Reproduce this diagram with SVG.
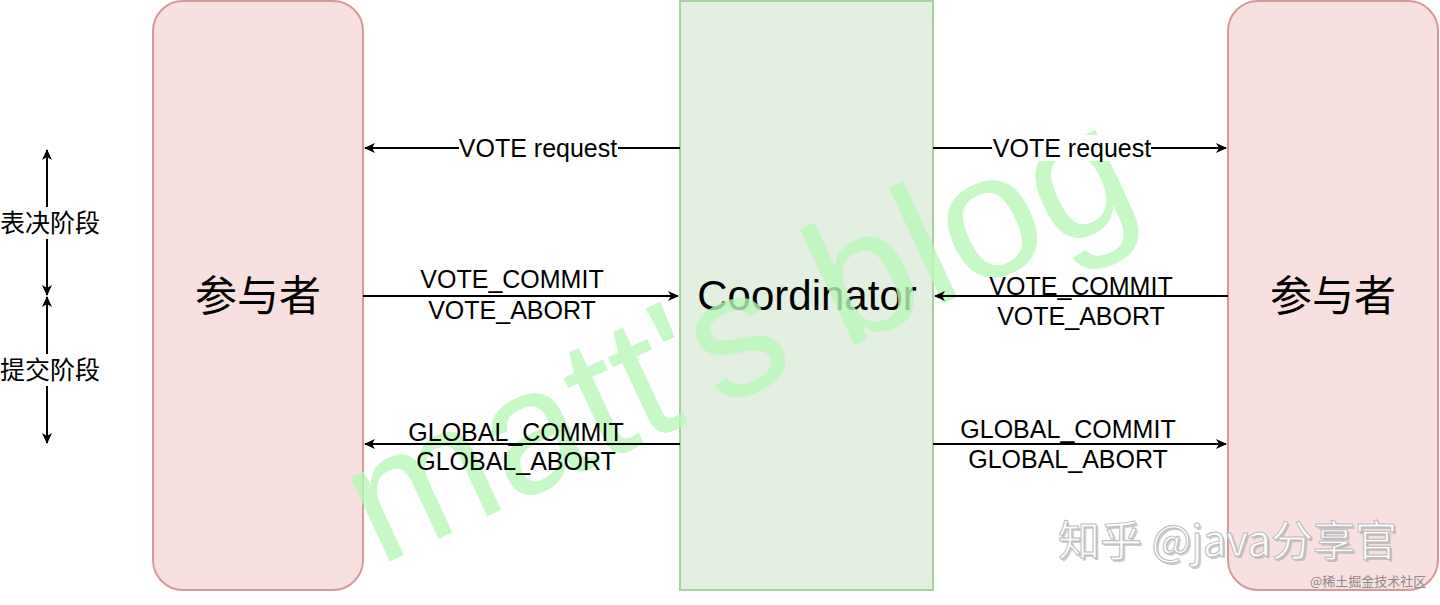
<svg xmlns="http://www.w3.org/2000/svg" width="1440" height="605" viewBox="0 0 1440 605">
<style>
.lbl{font-family:"Liberation Sans",Arial,sans-serif;font-size:25px;fill:#000;text-anchor:middle}
.big{font-family:"Noto Sans CJK SC","Liberation Sans",sans-serif;font-size:42px;fill:#000;text-anchor:middle}
.cjk{font-family:"Noto Sans CJK SC",sans-serif;font-size:25px;fill:#000;text-anchor:middle}
.edge{stroke:#000;stroke-width:2;fill:none}
.part{fill:#f9e0e0;stroke:#d49a98;stroke-width:2}
</style>
<defs>
<marker id="ah" markerWidth="12" markerHeight="12" refX="10" refY="5" orient="auto" markerUnits="userSpaceOnUse" viewBox="0 0 12 10">
<path d="M0,0 L11,5 L0,10 L3,5 Z" fill="#000"/>
</marker>
</defs>
<rect width="1440" height="605" fill="#fff"/>
<g id="participant-left">
<rect class="part" x="153" y="1" width="210" height="589" rx="30"/>
<text class="big" x="258" y="311">参与者</text>
</g>
<g id="coordinator">
<rect x="680" y="1" width="253" height="589" fill="#e3efe0" stroke="#a9d09f" stroke-width="2"/>
<text x="807" y="310" font-family="Liberation Sans,Arial,sans-serif" font-size="42" text-anchor="middle">Coordinator</text>
</g>
<g id="participant-right">
<rect class="part" x="1228" y="1" width="210" height="589" rx="30"/>
<text class="big" x="1333" y="311">参与者</text>
</g>
<g id="watermark" opacity="0.8">
<text x="762" y="388" transform="rotate(-25 762 388)" font-family="Liberation Sans,Arial,sans-serif" font-size="176" fill="#b8f8b8" text-anchor="middle">matt's blog</text>
</g>
<g id="connectors">
<line class="edge" x1="680" y1="148" x2="365" y2="148" marker-end="url(#ah)"/>
<line class="edge" x1="933" y1="148" x2="1226" y2="148" marker-end="url(#ah)"/>
<line class="edge" x1="363" y1="296" x2="678" y2="296" marker-end="url(#ah)"/>
<line class="edge" x1="1228" y1="296" x2="935" y2="296" marker-end="url(#ah)"/>
<line class="edge" x1="680" y1="444" x2="365" y2="444" marker-end="url(#ah)"/>
<line class="edge" x1="933" y1="444" x2="1226" y2="444" marker-end="url(#ah)"/>
<line class="edge" x1="47" y1="222" x2="47" y2="150" marker-end="url(#ah)"/>
<line class="edge" x1="47" y1="222" x2="47" y2="295" marker-end="url(#ah)"/>
<line class="edge" x1="47" y1="370" x2="47" y2="297" marker-end="url(#ah)"/>
<line class="edge" x1="47" y1="370" x2="47" y2="443" marker-end="url(#ah)"/>
</g>
<g id="labels">
<rect x="459" y="135" width="159" height="26" fill="#fff"/>
<text class="lbl" x="538" y="157">VOTE request</text>
<rect x="992" y="135" width="159" height="26" fill="#fff"/>
<text class="lbl" x="1072" y="157">VOTE request</text>
<text class="lbl" x="512" y="288">VOTE_COMMIT</text>
<text class="lbl" x="512" y="319">VOTE_ABORT</text>
<text class="lbl" x="1081" y="295">VOTE_COMMIT</text>
<text class="lbl" x="1081" y="325">VOTE_ABORT</text>
<text class="lbl" x="516" y="441">GLOBAL_COMMIT</text>
<text class="lbl" x="516" y="470">GLOBAL_ABORT</text>
<text class="lbl" x="1068" y="438">GLOBAL_COMMIT</text>
<text class="lbl" x="1068" y="468">GLOBAL_ABORT</text>
<rect x="0" y="207" width="101" height="32" fill="#fff"/>
<text class="cjk" x="50" y="232">表决阶段</text>
<rect x="0" y="354" width="101" height="32" fill="#fff"/>
<text class="cjk" x="50" y="379">提交阶段</text>
</g>
<g id="credits">
<text x="1058" y="556" font-family="Noto Sans CJK SC,sans-serif" font-size="42" fill="#9a9a9a" opacity="0.5" transform="translate(2,2)">知乎 @java分享官</text>
<text x="1058" y="556" font-family="Noto Sans CJK SC,sans-serif" font-size="42" fill="#ffffff" stroke="#bbbbbb" stroke-width="1">知乎 @java分享官</text>
<text x="1310" y="586" font-family="Noto Sans CJK SC,sans-serif" font-size="13" fill="#8a8a8a">@稀土掘金技术社区</text>
</g>
</svg>
